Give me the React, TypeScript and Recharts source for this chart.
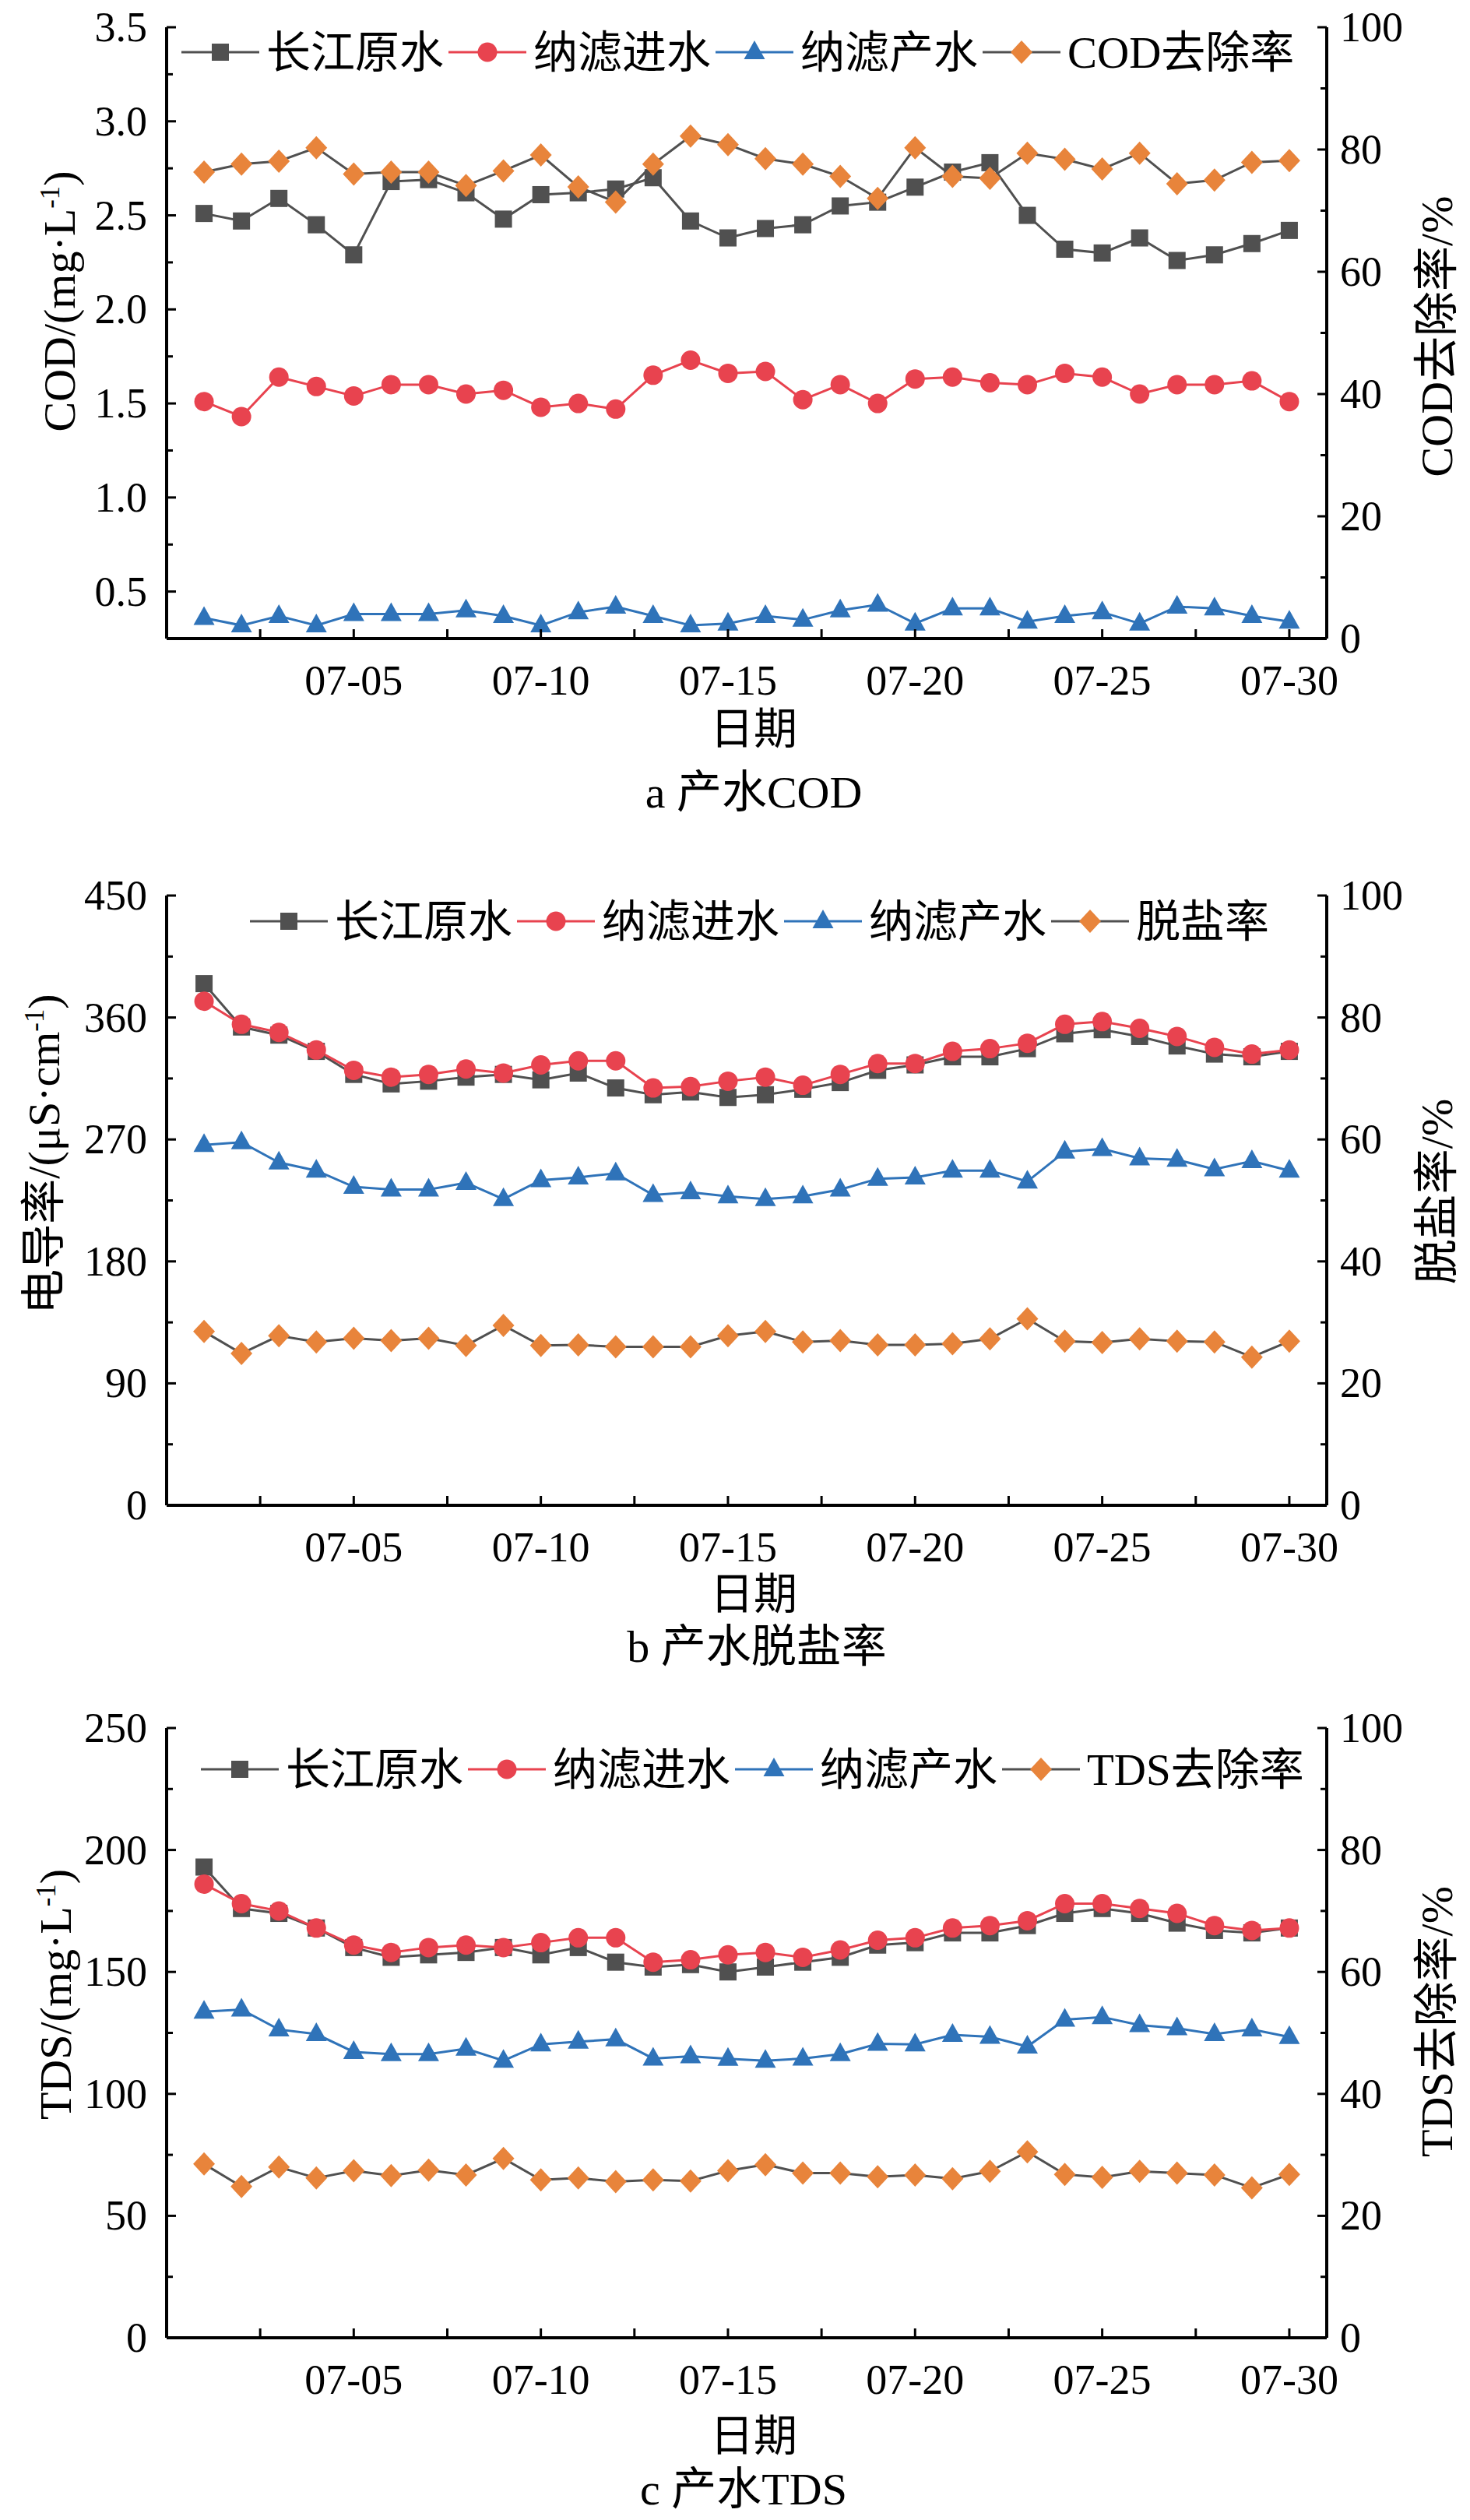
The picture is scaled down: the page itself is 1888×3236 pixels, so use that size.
import React from "react";
import { LineChart, Line, XAxis, YAxis } from "recharts";

const FONT = "'Liberation Serif', 'Times New Roman', 'Noto Sans CJK SC', serif";

const GRAY = "#505050";
const RED = "#e8434f";
const BLUE = "#2f73b9";
const ORANGE = "#e8843b";

// dates on the x axis
const dates = [
  "07-01", "07-02", "07-03", "07-04", "07-05", "07-06", "07-07", "07-08", "07-09", "07-10",
  "07-11", "07-12", "07-13", "07-14", "07-15", "07-16", "07-17", "07-18", "07-19", "07-20",
  "07-21", "07-22", "07-23", "07-24", "07-25", "07-26", "07-27", "07-28", "07-29", "07-30",
];
const dayTicks = [2.5, 5, 7.5, 10, 12.5, 15, 17.5, 20, 22.5, 25, 27.5, 30];
const dayLabels = [5, 10, 15, 20, 25, 30];

const seriesNames = ["长江原水", "纳滤进水", "纳滤产水"];

// a: COD, mg/L
const codRaw = [2.51, 2.47, 2.59, 2.45, 2.29, 2.68, 2.69, 2.62, 2.48, 2.61, 2.62, 2.64, 2.70, 2.47, 2.38,
  2.43, 2.45, 2.55, 2.57, 2.65, 2.73, 2.78, 2.50, 2.32, 2.30, 2.38, 2.26, 2.29, 2.35, 2.42];
const codFeed = [1.51, 1.43, 1.64, 1.59, 1.54, 1.60, 1.60, 1.55, 1.57, 1.48, 1.50, 1.47, 1.65, 1.73, 1.66,
  1.67, 1.52, 1.60, 1.50, 1.63, 1.64, 1.61, 1.60, 1.66, 1.64, 1.55, 1.60, 1.60, 1.62, 1.51];
const codProduct = [0.36, 0.32, 0.37, 0.32, 0.38, 0.38, 0.38, 0.40, 0.37, 0.32, 0.39, 0.42, 0.37, 0.32, 0.33,
  0.37, 0.35, 0.40, 0.43, 0.33, 0.41, 0.41, 0.34, 0.37, 0.39, 0.33, 0.42, 0.41, 0.37, 0.34];
const codRemoval = [76.3, 77.6, 78.1, 80.3, 76.0, 76.3, 76.3, 74.1, 76.5, 79.1, 73.9, 71.4, 77.6, 82.2, 80.8,
  78.5, 77.6, 75.6, 72.0, 80.3, 75.6, 75.3, 79.4, 78.4, 76.8, 79.4, 74.4, 75.0, 77.9, 78.2];
const codTicks = [0.5, 0.75, 1, 1.25, 1.5, 1.75, 2, 2.25, 2.5, 2.75, 3, 3.25, 3.5];
const codLabels = [0.5, 1, 1.5, 2, 2.5, 3, 3.5];

// b: conductivity, uS/cm
const condRaw = [385, 353, 347, 335, 318, 311, 313, 316, 318, 314, 319, 308, 303, 305, 301,
  303, 307, 312, 321, 325, 331, 331, 337, 348, 351, 346, 339, 333, 331, 335];
const condFeed = [372, 355, 349, 336, 321, 316, 318, 322, 319, 325, 328, 328, 308, 309, 313,
  316, 310, 318, 326, 326, 335, 337, 341, 355, 357, 352, 346, 338, 333, 336];
const condProduct = [266, 268, 253, 247, 235, 233, 233, 238, 226, 240, 242, 245, 229, 231, 228,
  226, 228, 233, 241, 242, 247, 247, 239, 261, 263, 256, 255, 248, 254, 247];
const desalination = [28.5, 24.9, 27.8, 26.8, 27.4, 27.0, 27.4, 26.2, 29.5, 26.2, 26.3, 26.0, 26.0, 26.0, 27.8,
  28.5, 26.8, 27.0, 26.3, 26.3, 26.5, 27.3, 30.6, 26.9, 26.7, 27.3, 26.9, 26.8, 24.3, 26.9];
const condTicks = [0, 45, 90, 135, 180, 225, 270, 315, 360, 405, 450];
const condLabels = [0, 90, 180, 270, 360, 450];

// c: TDS, mg/L
const tdsRaw = [193, 176, 174, 168, 160, 156, 157, 158, 160, 157, 160, 154, 152, 153, 150,
  152, 154, 156, 161, 162, 166, 166, 169, 174, 176, 174, 170, 167, 166, 168];
const tdsFeed = [186, 178, 175, 168, 161, 158, 160, 161, 160, 162, 164, 164, 154, 155, 157,
  158, 156, 159, 163, 164, 168, 169, 171, 178, 178, 176, 174, 169, 167, 168];
const tdsProduct = [133.7, 134.6, 126.4, 124.5, 117.2, 116.3, 116.3, 118.5, 113.6, 120.3, 121.4, 122.4, 114.5, 115.4, 114.4,
  113.6, 114.5, 116.3, 120.5, 120.3, 124.2, 123.4, 119.4, 130.4, 131.5, 128.2, 126.9, 124.5, 126.4, 123.3];
const tdsRemoval = [28.5, 24.8, 28.0, 26.2, 27.4, 26.6, 27.5, 26.7, 29.4, 25.9, 26.2, 25.6, 25.9, 25.7, 27.4,
  28.4, 27.0, 27.0, 26.4, 26.7, 26.1, 27.3, 30.5, 26.8, 26.3, 27.3, 27.0, 26.7, 24.6, 26.8];
const tdsTicks = [0, 25, 50, 75, 100, 125, 150, 175, 200, 225, 250];
const tdsLabels = [0, 50, 100, 150, 200, 250];

// right axis, %
const rateTicks = [0, 10, 20, 30, 40, 50, 60, 70, 80, 90, 100];
const rateLabels = [0, 20, 40, 60, 80, 100];

function buildRows(raw: number[], feed: number[], product: number[], rate: number[]) {
  return dates.map((d, i) => ({
    day: Number(d.slice(3)),
    raw: raw[i],
    feed: feed[i],
    product: product[i],
    rate: rate[i],
  }));
}

const TICK_FS = 54;

// markers
const squareDot = (p: any) => (
  <rect key={"s" + p.index} x={p.cx - 11} y={p.cy - 11} width={22} height={22} fill={GRAY} />
);
const circleDot = (p: any) => <circle key={"c" + p.index} cx={p.cx} cy={p.cy} r={12.5} fill={RED} />;
const triangleDot = (p: any) => (
  <polygon
    key={"t" + p.index}
    points={`${p.cx},${p.cy - 15} ${p.cx - 13.5},${p.cy + 9} ${p.cx + 13.5},${p.cy + 9}`}
    fill={BLUE}
  />
);
const diamondDot = (p: any) => (
  <polygon
    key={"d" + p.index}
    points={`${p.cx},${p.cy - 15} ${p.cx + 14},${p.cy} ${p.cx},${p.cy + 15} ${p.cx - 14},${p.cy}`}
    fill={ORANGE}
  />
);

const XTick = (p: any) => {
  const v = p.payload.value;
  const major = dayLabels.includes(v);
  return (
    <g>
      <line x1={p.x} x2={p.x} y1={p.y} y2={p.y - 12} stroke="#000" strokeWidth={3} />
      {major && (
        <text x={p.x} y={p.y + 72} textAnchor="middle" fontSize={TICK_FS} fontFamily={FONT} fill="#000">
          {dates[v - 1]}
        </text>
      )}
    </g>
  );
};

const makeLeftTick = (labels: number[], dec: number) => (p: any) => {
  const v = p.payload.value;
  const major = labels.includes(v);
  return (
    <g>
      <line x1={p.x} x2={p.x + (major ? 12 : 8)} y1={p.y} y2={p.y} stroke="#000" strokeWidth={3} />
      {major && (
        <text x={p.x - 25} y={p.y + 18} textAnchor="end" fontSize={TICK_FS} fontFamily={FONT} fill="#000">
          {v.toFixed(dec)}
        </text>
      )}
    </g>
  );
};

const RightTick = (p: any) => {
  const v = p.payload.value;
  const major = rateLabels.includes(v);
  return (
    <g>
      <line x1={p.x} x2={p.x - (major ? 12 : 8)} y1={p.y} y2={p.y} stroke="#000" strokeWidth={3} />
      {major && (
        <text x={p.x + 17} y={p.y + 18} textAnchor="start" fontSize={TICK_FS} fontFamily={FONT} fill="#000">
          {v}
        </text>
      )}
    </g>
  );
};

function LegendIcon({ kind, color }: { kind: string; color: string }) {
  const line = kind === "diamond" ? GRAY : color;
  return (
    <svg width={100} height={40} style={{ display: "block" }}>
      <line x1={0} x2={100} y1={20} y2={20} stroke={line} strokeWidth={3} />
      {kind === "square" && <rect x={39} y={9} width={22} height={22} fill={color} />}
      {kind === "circle" && <circle cx={50} cy={20} r={12.5} fill={color} />}
      {kind === "triangle" && <polygon points="50,5 36.5,29 63.5,29" fill={color} />}
      {kind === "diamond" && <polygon points="50,5 64,20 50,35 36,20" fill={color} />}
    </svg>
  );
}

type PanelProps = {
  plotTop: number;
  plotBottom: number;
  rows: any[];
  leftDomain: [number, number];
  leftTicks: number[];
  leftLabels: number[];
  decimals: number;
  rateName: string;
  leftTitle: React.ReactNode;
  rightTitle: string;
  caption: string;
  legendTop: number;
  legendLeft: number;
  leftTitlePos: [number, number];
  rightTitleY: number;
  xTitleY: number;
  captionPos: [number, number];
};

function Panel(props: PanelProps) {
  const plotH = props.plotBottom - props.plotTop;
  const legendItems = [
    { name: seriesNames[0], kind: "square", color: GRAY },
    { name: seriesNames[1], kind: "circle", color: RED },
    { name: seriesNames[2], kind: "triangle", color: BLUE },
    { name: props.rateName, kind: "diamond", color: ORANGE },
  ];
  const textStyle: React.CSSProperties = {
    position: "absolute",
    whiteSpace: "nowrap",
    fontSize: 58,
    lineHeight: 1,
    fontFamily: FONT,
  };
  return (
    <>
      <div style={{ position: "absolute", left: 0, top: props.plotTop - 60 }}>
        <LineChart
          width={1888}
          height={plotH + 160}
          data={props.rows}
          margin={{ top: 60, right: 64, bottom: 0, left: 94 }}
        >
          <XAxis
            dataKey="day"
            type="number"
            domain={[0, 31]}
            ticks={dayTicks}
            interval={0}
            height={100}
            tickSize={0}
            tickMargin={0}
            tickLine={false}
            axisLine={{ stroke: "#000", strokeWidth: 4 }}
            tick={XTick}
            allowDataOverflow
          />
          <YAxis
            yAxisId="l"
            orientation="left"
            type="number"
            domain={props.leftDomain}
            ticks={props.leftTicks}
            interval={0}
            width={120}
            tickSize={0}
            tickMargin={0}
            tickLine={false}
            axisLine={{ stroke: "#000", strokeWidth: 4 }}
            tick={makeLeftTick(props.leftLabels, props.decimals)}
            allowDataOverflow
          />
          <YAxis
            yAxisId="r"
            orientation="right"
            type="number"
            domain={[0, 100]}
            ticks={rateTicks}
            interval={0}
            width={120}
            tickSize={0}
            tickMargin={0}
            tickLine={false}
            axisLine={{ stroke: "#000", strokeWidth: 4 }}
            tick={RightTick}
            allowDataOverflow
          />
          <Line yAxisId="l" dataKey="raw" stroke={GRAY} strokeWidth={3} dot={squareDot} activeDot={false} isAnimationActive={false} />
          <Line yAxisId="l" dataKey="feed" stroke={RED} strokeWidth={3} dot={circleDot} activeDot={false} isAnimationActive={false} />
          <Line yAxisId="l" dataKey="product" stroke={BLUE} strokeWidth={3} dot={triangleDot} activeDot={false} isAnimationActive={false} />
          <Line yAxisId="r" dataKey="rate" stroke={GRAY} strokeWidth={3} dot={diamondDot} activeDot={false} isAnimationActive={false} />
        </LineChart>
      </div>

      <div
        style={{
          position: "absolute",
          left: props.legendLeft,
          top: props.legendTop - 30,
          height: 60,
          display: "flex",
          alignItems: "center",
          fontSize: 57,
          fontFamily: FONT,
          whiteSpace: "nowrap",
        }}
      >
        {legendItems.map((it) => (
          <div key={it.name} style={{ display: "flex", alignItems: "center", marginRight: 6 }}>
            <LegendIcon kind={it.kind} color={it.color} />
            <span style={{ marginLeft: 9, lineHeight: 1 }}>{it.name}</span>
          </div>
        ))}
      </div>

      <div
        style={{
          ...textStyle,
          left: props.leftTitlePos[0],
          top: props.leftTitlePos[1],
          transform: "translate(-50%, -50%) rotate(-90deg)",
        }}
      >
        {props.leftTitle}
      </div>
      <div
        style={{
          ...textStyle,
          left: 1846,
          top: props.rightTitleY,
          transform: "translate(-50%, -50%) rotate(-90deg)",
        }}
      >
        {props.rightTitle}
      </div>
      <div style={{ ...textStyle, fontSize: 56, left: 968, top: props.xTitleY, transform: "translate(-50%, -50%)" }}>
        日期
      </div>
      <div
        style={{
          ...textStyle,
          left: props.captionPos[0],
          top: props.captionPos[1],
          transform: "translate(-50%, -50%)",
        }}
      >
        {props.caption}
      </div>
    </>
  );
}

const sup = (t: string) => <sup style={{ fontSize: "0.6em" }}>{t}</sup>;

export default function App() {
  return (
    <div
      style={{
        position: "absolute",
        left: 0,
        top: 0,
        width: 1888,
        height: 3236,
        background: "#fff",
        color: "#000",
        fontFamily: FONT,
        overflow: "hidden",
      }}
    >
      <Panel
        plotTop={35}
        plotBottom={820}
        rows={buildRows(codRaw, codFeed, codProduct, codRemoval)}
        leftDomain={[0.25, 3.5]}
        leftTicks={codTicks}
        leftLabels={codLabels}
        decimals={1}
        rateName="COD去除率"
        leftTitle={<span>COD/(mg·L{sup("-1")})</span>}
        rightTitle="COD去除率/%"
        caption="a  产水COD"
        legendTop={67}
        legendLeft={233}
        leftTitlePos={[77, 387]}
        rightTitleY={432}
        xTitleY={936}
        captionPos={[968, 1018]}
      />
      <Panel
        plotTop={1150}
        plotBottom={1933}
        rows={buildRows(condRaw, condFeed, condProduct, desalination)}
        leftDomain={[0, 450]}
        leftTicks={condTicks}
        leftLabels={condLabels}
        decimals={0}
        rateName="脱盐率"
        leftTitle={<span>电导率/(μS·cm{sup("-1")})</span>}
        rightTitle="脱盐率/%"
        caption="b  产水脱盐率"
        legendTop={1183}
        legendLeft={321}
        leftTitlePos={[57, 1482]}
        rightTitleY={1530}
        xTitleY={2047}
        captionPos={[972, 2115]}
      />
      <Panel
        plotTop={2219}
        plotBottom={3002}
        rows={buildRows(tdsRaw, tdsFeed, tdsProduct, tdsRemoval)}
        leftDomain={[0, 250]}
        leftTicks={tdsTicks}
        leftLabels={tdsLabels}
        decimals={0}
        rateName="TDS去除率"
        leftTitle={<span>TDS/(mg·L{sup("-1")})</span>}
        rightTitle="TDS去除率/%"
        caption="c  产水TDS"
        legendTop={2272}
        legendLeft={258}
        leftTitlePos={[72, 2561]}
        rightTitleY={2596}
        xTitleY={3128}
        captionPos={[955, 3197]}
      />
    </div>
  );
}
